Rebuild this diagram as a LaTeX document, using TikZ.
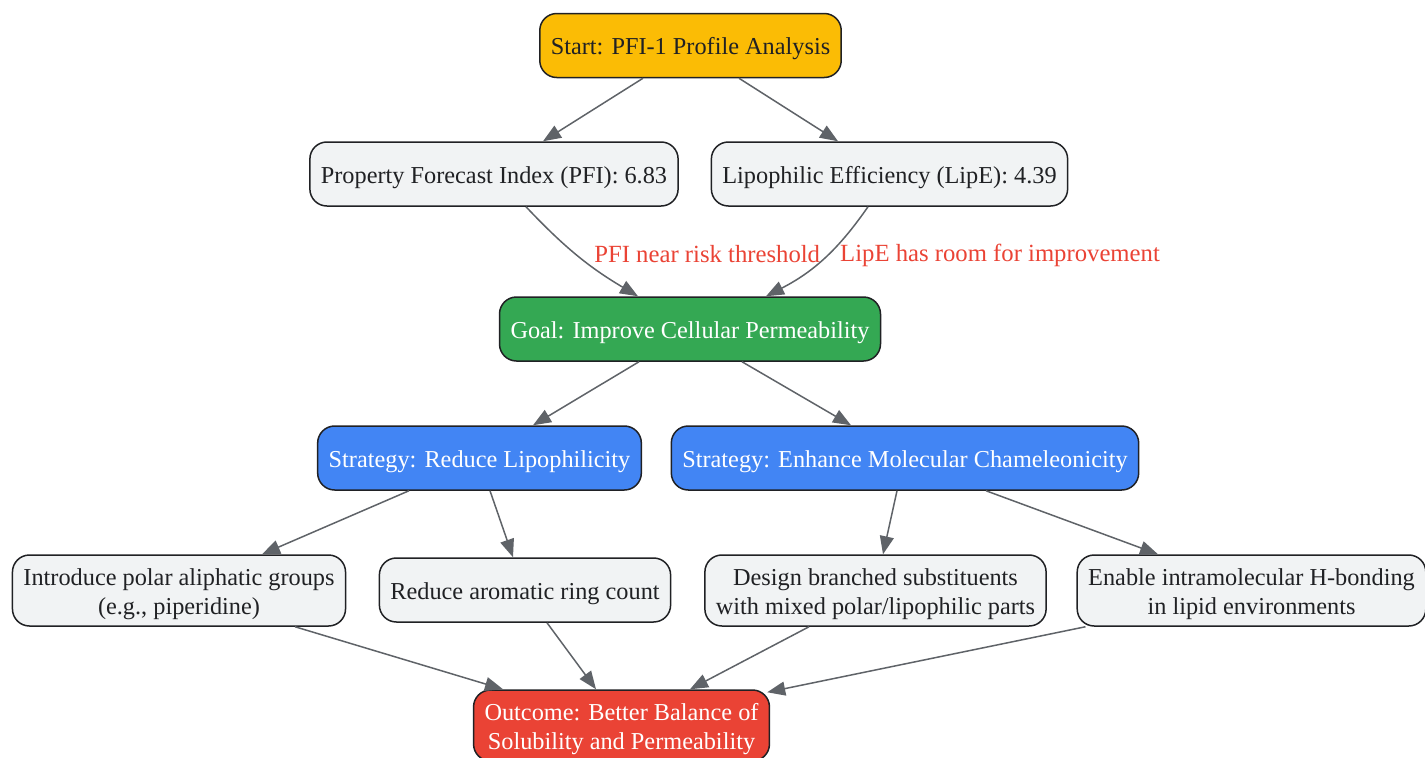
\documentclass[tikz,border=0pt]{standalone}
\usepackage{fontspec}
\setmainfont{Liberation Serif}
\usetikzlibrary{arrows.meta,calc}
\definecolor{startyellow}{HTML}{FBBC05}
\definecolor{goalgreen}{HTML}{34A853}
\definecolor{stratblue}{HTML}{4285F4}
\definecolor{outred}{HTML}{EA4335}
\definecolor{boxgray}{HTML}{F1F3F4}
\definecolor{edgegray}{HTML}{5F6368}
\definecolor{inkdark}{HTML}{202124}

\begin{document}
\begin{tikzpicture}[x=1pt,y=-1pt,->,>={Triangle[length=18pt,width=14pt]},
      font=\fontsize{24.3}{29}\selectfont,
      box/.style={rectangle,rounded corners=17pt,draw=inkdark,line width=1.5pt,
        inner xsep=11pt,inner ysep=8pt,minimum height=64pt,align=center,
        text=inkdark,fill=boxgray,text height=23pt,text depth=5pt},
      twobox/.style={box,text height=51pt,text depth=4pt},
      startbox/.style={box,fill=startyellow},
      goalbox/.style={box,fill=goalgreen,text=white},
      stratbox/.style={box,fill=stratblue,text=white},
      outbox/.style={twobox,fill=outred,text=white},
      every edge/.style={draw,color=edgegray,line width=1.5pt},
      risk/.style={text=outred,font=\fontsize{24.7}{29}\selectfont}]
      \useasboundingbox (0,0) rectangle (1425,758);

      \node[startbox] (start) at (690.5, 45.5) {Start: PFI-1 Profile Analysis};

      \node[box] (pfi) at (494, 174) {Property Forecast Index (PFI): 6.83};
      \node[box] (lipe) at (889.5, 174) {Lipophilic Efficiency (LipE): 4.39};

      \node[goalbox] (goal) at (690, 329) {Goal: Improve Cellular Permeability};

      \node[stratbox] (reduce) at (479.5, 458) {Strategy: Reduce Lipophilicity};
      \node[stratbox] (enhance) at (905, 458) {Strategy: Enhance Molecular Chameleonicity};

      \node[twobox] (polar) at (179, 590.5) {Introduce polar aliphatic groups\\(e.g., piperidine)};
      \node[box] (aromatic) at (525, 590) {Reduce aromatic ring count};
      \node[twobox] (branch) at (875.5, 590.5) {Design branched substituents\\with mixed polar/lipophilic parts};
      \node[twobox] (hbond) at (1251.5, 590.5) {Enable intramolecular H-bonding\\in lipid environments};

      \node[outbox] (outcome) at (621.5, 725.5) {Outcome: Better Balance of\\Solubility and Permeability};

      \path
      ([xshift=-47.5]start.south) edge ([xshift=49]pfi.north)
      ([xshift=48.5]start.south) edge ([xshift=-51.5]lipe.north)

      ([xshift=32]pfi.south) edge[bend right=8]
        node[risk,right=14,pos=0.48] {PFI near risk threshold} ([xshift=-52]goal.north)
      ([xshift=-21.5]lipe.south) edge[bend left=14]
        node[risk,right=9,pos=0.46] {LipE has room for improvement} ([xshift=76]goal.north)

      ([xshift=-51]goal.south) edge ([xshift=53.5]reduce.north)
      ([xshift=52]goal.south) edge ([xshift=-54]enhance.north)

      ([xshift=-70.5]reduce.south) edge ([xshift=83]polar.north)
      ([xshift=10.5]reduce.south) edge ([xshift=-12]aromatic.north)
      ([xshift=-8]enhance.south) edge ([xshift=7.5]branch.north)
      ([xshift=81]enhance.south) edge ([xshift=-93.5]hbond.north)

      ([xshift=116]polar.south) edge ([xshift=-118.5]outcome.north)
      ([xshift=22]aromatic.south) edge ([xshift=-25.5]outcome.north)
      ([xshift=-66.5]branch.south) edge ([xshift=68.5]outcome.north)
      ([xshift=9]hbond.south west) edge ([xshift=-3,yshift=-3]outcome.north east)
      ;
\end{tikzpicture}
\end{document}
